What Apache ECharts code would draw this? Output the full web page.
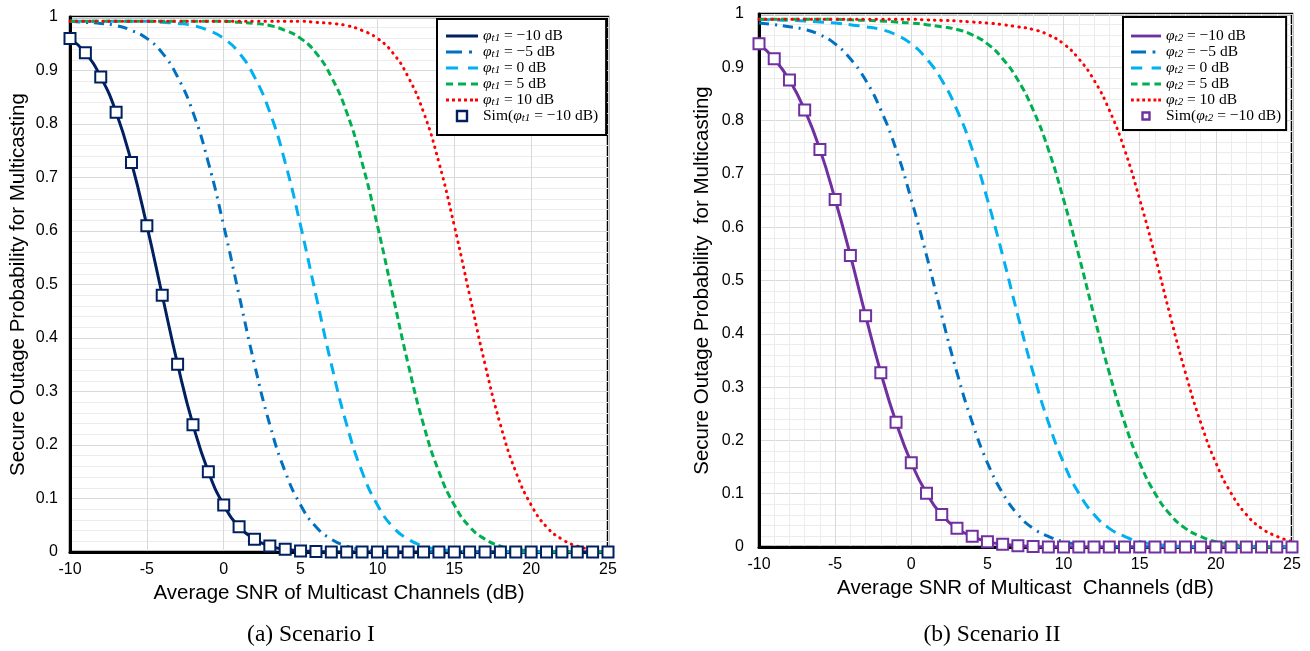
<!DOCTYPE html>
<html><head><meta charset="utf-8">
<script src="https://cdn.jsdelivr.net/npm/echarts@6/dist/echarts.min.js"></script>
<style>html,body{margin:0;padding:0;background:#fff}#c{width:1310px;height:651px}</style>
</head><body><div id="c"></div>
<script>
// SNR (dB) sample points
const snr = [-10,-9,-8,-7,-6,-5,-4,-3,-2,-1,0,1,2,3,4,5,6,7,8,9,10,11,12,13,14,15,16,17,18,19,20,21,22,23,24,25];

// Scenario I (phi_t1)
const s1_m10 = [0.96,0.933,0.888,0.822,0.728,0.61,0.48,0.351,0.238,0.15,0.088,0.047,0.024,0.011,0.005,0.002,0.001,0,0,0,0,0,0,0,0,0,0,0,0,0,0,0,0,0,0,0];
const s1_m5  = [0.992,0.99,0.988,0.984,0.975,0.96,0.933,0.888,0.822,0.728,0.61,0.48,0.351,0.238,0.15,0.088,0.047,0.024,0.011,0.005,0.002,0.001,0,0,0,0,0,0,0,0,0,0,0,0,0,0];
const s1_0   = [0.992,0.992,0.992,0.992,0.992,0.992,0.99,0.988,0.984,0.975,0.96,0.933,0.888,0.822,0.728,0.61,0.48,0.351,0.238,0.15,0.088,0.047,0.024,0.011,0.005,0.002,0.001,0,0,0,0,0,0,0,0,0];
const s1_5   = [0.992,0.992,0.992,0.992,0.992,0.992,0.992,0.992,0.992,0.992,0.992,0.99,0.988,0.984,0.975,0.96,0.933,0.888,0.822,0.728,0.61,0.48,0.351,0.238,0.15,0.088,0.047,0.024,0.011,0.005,0.002,0.001,0,0,0,0];
const s1_10  = [0.992,0.992,0.992,0.992,0.992,0.992,0.992,0.992,0.992,0.992,0.992,0.992,0.992,0.992,0.992,0.992,0.99,0.988,0.984,0.975,0.96,0.933,0.888,0.822,0.728,0.61,0.48,0.351,0.238,0.15,0.088,0.047,0.024,0.011,0.005,0.002];
const s1_sim = [0.96,0.933,0.888,0.822,0.728,0.61,0.48,0.351,0.238,0.15,0.088,0.047,0.024,0.011,0.005,0.002,0.001,0,0,0,0,0,0,0,0,0,0,0,0,0,0,0,0,0,0,0];

// Scenario II (phi_t2)
const s2_m10 = [0.944,0.916,0.876,0.82,0.746,0.652,0.547,0.434,0.327,0.234,0.158,0.101,0.061,0.035,0.02,0.01,0.005,0.0025,0.001,0,0,0,0,0,0,0,0,0,0,0,0,0,0,0,0,0];
const s2_m5  = [0.983,0.98,0.976,0.971,0.961,0.944,0.916,0.876,0.82,0.746,0.652,0.547,0.434,0.327,0.234,0.158,0.101,0.061,0.035,0.02,0.01,0.005,0.0025,0.001,0,0,0,0,0,0,0,0,0,0,0,0];
const s2_0   = [0.99,0.989,0.988,0.987,0.985,0.983,0.98,0.976,0.971,0.961,0.944,0.916,0.876,0.82,0.746,0.652,0.547,0.434,0.327,0.234,0.158,0.101,0.061,0.035,0.02,0.01,0.005,0.0025,0.001,0,0,0,0,0,0,0];
const s2_5   = [0.99,0.99,0.99,0.99,0.99,0.99,0.989,0.988,0.987,0.985,0.983,0.98,0.976,0.971,0.961,0.944,0.916,0.876,0.82,0.746,0.652,0.547,0.434,0.327,0.234,0.158,0.101,0.061,0.035,0.02,0.01,0.005,0.0025,0.001,0,0];
const s2_10  = [0.99,0.99,0.99,0.99,0.99,0.99,0.99,0.99,0.99,0.99,0.99,0.989,0.988,0.987,0.985,0.983,0.98,0.976,0.971,0.961,0.944,0.916,0.876,0.82,0.746,0.652,0.547,0.434,0.327,0.234,0.158,0.101,0.061,0.035,0.02,0.01];
const s2_sim = [0.944,0.916,0.876,0.82,0.746,0.652,0.547,0.434,0.327,0.234,0.158,0.101,0.061,0.035,0.02,0.01,0.005,0.0025,0.001,0,0,0,0,0,0,0,0,0,0,0,0,0,0,0,0,0];

// labels
const phiLevels = ['−10', '−5', '0', '5', '10'];
const xTitle1 = 'Average SNR of Multicast Channels (dB)';
const xTitle2 = 'Average SNR of Multicast  Channels (dB)';
const yTitle1 = 'Secure Outage Probability for Multicasting';
const yTitle2 = 'Secure Outage Probability  for Multicasting';
const caption1 = '(a) Scenario I';
const caption2 = '(b) Scenario II';

const pts = arr => snr.map((x, i) => [x, arr[i]]);
const sans = 'Liberation Sans, Arial, sans-serif';
const serif = 'Liberation Serif, Times New Roman, serif';

const styles = [
  {color: null, type: 'solid', width: 3},
  {color: '#0070C0', type: [10, 6, 2, 6], width: 3},
  {color: '#00B0F0', type: [11, 7], width: 3},
  {color: '#00B050', type: [7, 4], width: 3},
  {color: '#FF0000', type: [0.5, 6], width: 3, cap: 'round'}
];
// legend icon shapes (dash patterns)
const legendIcons = [
  'path://M0,0H32V3H0Z',
  'path://M0,0H16V3H0Z M23,0H26V3H23Z M31.9,0H32V0.1H31.9Z',
  'path://M0,0H12V3H0Z M22,0H32V3H22Z',
  'path://M0,0H7V3H0Z M12,0H20V3H12Z M25,0H32V3H25Z',
  'path://M0,0h3v3h-3Z M6,0h3v3h-3Z M12,0h3v3h-3Z M18,0h3v3h-3Z M24,0h3v3h-3Z M29,0h3v3h-3Z'
];

function buildSeries(gi, sub, mainColor, arrs, sim) {
  const out = [];
  arrs.forEach((arr, k) => {
    const st = styles[k];
    const c = st.color || mainColor;
    out.push({
      type: 'line', name: sub + '|' + phiLevels[k], xAxisIndex: gi, yAxisIndex: gi,
      data: pts(arr), symbol: 'none', smooth: 0.5,
      lineStyle: {color: c, width: st.width, type: st.type, cap: st.cap || 'butt'},
      itemStyle: {color: c}, z: 3
    });
  });
  out.push({
    type: 'line', name: sub + '|sim', xAxisIndex: gi, yAxisIndex: gi,
    data: pts(sim), symbol: 'emptyRect', symbolSize: 11, showSymbol: true,
    lineStyle: {width: 0, opacity: 0},
    itemStyle: {color: mainColor, borderColor: mainColor, borderWidth: 2}, z: 5
  });
  return out;
}

const series = [].concat(
  buildSeries(0, 't1', '#002060', [s1_m10, s1_m5, s1_0, s1_5, s1_10], s1_sim),
  buildSeries(1, 't2', '#7030A0', [s2_m10, s2_m5, s2_0, s2_5, s2_10], s2_sim)
);

const rich = {
  p: {fontFamily: serif, fontStyle: 'italic', fontSize: 15.5, color: '#000', lineHeight: 16, verticalAlign: 'bottom'},
  s: {fontFamily: serif, fontStyle: 'italic', fontSize: 11, color: '#000', lineHeight: 10, verticalAlign: 'bottom'},
  t: {fontFamily: serif, fontSize: 15.5, color: '#000', lineHeight: 16, verticalAlign: 'bottom'}
};
function legendFmt(name) {
  const [sub, lvl] = name.split('|');
  if (lvl === 'sim') return '{t|Sim(}{p|φ}{s|' + sub + '}{t| = −10 dB)}';
  return '{p|φ}{s|' + sub + '}{t| = ' + lvl + ' dB}';
}
function legendData(sub, color) {
  const cols = [color, '#0070C0', '#00B0F0', '#00B050', '#FF0000'];
  const d = phiLevels.map((l, k) => ({name: sub + '|' + l, icon: legendIcons[k], itemStyle: {color: cols[k], borderWidth: 0}}));
  d.push({name: sub + '|sim', icon: 'path://M0,0H10V10H0Z',
    itemStyle: {color: '#fff', borderColor: color, borderWidth: 2.4}});
  return d;
}

function xAxis(gi, name, gap, minor) {
  return {
    type: 'value', gridIndex: gi, min: -10, max: 25, interval: 5,
    axisLine: {onZero: false, lineStyle: {color: '#000', width: 3}},
    axisTick: {show: false},
    axisLabel: {color: '#000', fontSize: 16, fontFamily: sans, margin: 10, showMinLabel: true, showMaxLabel: true},
    splitLine: {show: true, lineStyle: {color: '#d9d9d9', width: 1}},
    minorTick: {show: false, splitNumber: 5},
    minorSplitLine: {show: minor, lineStyle: {color: '#ececec', width: 1}},
    name: name, nameLocation: 'middle', nameGap: gap,
    nameTextStyle: {color: '#000', fontSize: 20.5, fontFamily: sans}
  };
}
function yAxis(gi, name, gap, lblMargin) {
  return {
    type: 'value', gridIndex: gi, min: 0, max: 1, interval: 0.1,
    axisLine: {show: true, onZero: false, lineStyle: {color: '#000', width: 3}},
    axisTick: {show: false},
    axisLabel: {color: '#000', fontSize: 16, fontFamily: sans, margin: lblMargin},
    splitLine: {show: true, lineStyle: {color: '#d9d9d9', width: 1}},
    minorTick: {show: false, splitNumber: 5},
    minorSplitLine: {show: true, lineStyle: {color: '#ececec', width: 1}},
    name: name, nameLocation: 'middle', nameGap: gap,
    nameTextStyle: {color: '#000', fontSize: 20.5, fontFamily: sans}
  };
}

const legendCommon = {
  orient: 'vertical', backgroundColor: '#fff', borderColor: '#000', borderWidth: 2,
  itemGap: 0, formatter: legendFmt, selectedMode: false,
  textStyle: {rich: rich, fontSize: 15.5}
};

const option = {
  animation: false,
  backgroundColor: '#fff',
  grid: [
    {left: 70, top: 17, width: 538, height: 535, show: true, borderColor: '#000', borderWidth: 2.5, containLabel: false},
    {left: 759, top: 14, width: 533, height: 533, show: true, borderColor: '#000', borderWidth: 2.5, containLabel: false}
  ],
  xAxis: [xAxis(0, xTitle1, 27, false), xAxis(1, xTitle2, 31, true)],
  yAxis: [yAxis(0, yTitle1, 41, 12), yAxis(1, yTitle2, 46, 15)],
  legend: [
    Object.assign({}, legendCommon, {left: 437, top: 19, itemWidth: 32, itemHeight: 10, padding: [9, 8, 11, 9], data: legendData('t1', '#002060')}),
    Object.assign({}, legendCommon, {left: 1123, top: 17, itemWidth: 30, itemHeight: 7, padding: [11, 5, 6, 8], data: legendData('t2', '#7030A0')})
  ],
  graphic: [
    {type: 'text', x: 311, y: 635, style: {text: caption1, font: '23.5px ' + serif, fill: '#000', align: 'center', verticalAlign: 'middle'}},
    {type: 'text', x: 992, y: 635, style: {text: caption2, font: '23.5px ' + serif, fill: '#000', align: 'center', verticalAlign: 'middle'}}
  ],
  series: series
};

const chart = echarts.init(document.getElementById('c'), null, {renderer: 'canvas'});
chart.setOption(option);
</script>
</body></html>
